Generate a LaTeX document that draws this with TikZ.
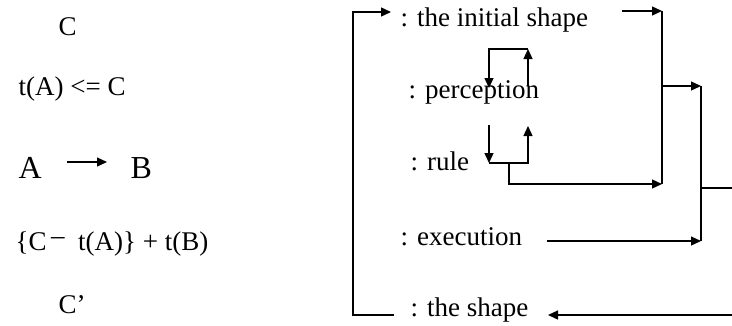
\documentclass[tikz,border=0pt]{standalone}
\usepackage{fontspec}
\setmainfont{Liberation Serif}
\usetikzlibrary{arrows.meta}

\begin{document}
\begin{tikzpicture}[x=1pt,y=-1pt,line width=1.3pt,
  lbl/.style={anchor=base west,inner sep=0pt,font=\fontsize{27}{31}\selectfont},
  biglbl/.style={lbl,font=\fontsize{32}{36}\selectfont},
  flow/.style={-{Triangle[length=10pt,width=9pt]}}]
\useasboundingbox (0,0) rectangle (732,325);

% left column: the formal steps
\node[lbl] (c0)   at (58,35)  {C};
\node[lbl] (ta)   at (18,95)  {t(A) <= C};
\node[biglbl] (ra) at (18,178) {A};
\node[biglbl] (rb) at (130,178) {B};
\node[lbl] (ex)   at (15,250) {\{C\,\raisebox{6pt}{–}\ \ t(A)\} + t(B)};
\node[lbl] (cp)   at (58,313) {C’};
\coordinate (rs) at (67,162);
\coordinate (re) at (107,162);
\draw[flow] (rs) -- (re);

% right column: the stages
\node[lbl] (init)  at (400,26)  {: the initial shape};
\node[lbl] (perc)  at (408,98)  {: perception};
\node[lbl] (rule)  at (410,170) {: rule};
\node[lbl] (exec)  at (400,245) {: execution};
\node[lbl] (shape) at (410,316) {: the shape};

% junction points
\coordinate (bl0) at (394,315);
\coordinate (bl1) at (353,315);
\coordinate (bl2) at (353,12);
\coordinate (bl3) at (391,12);
\coordinate (i0) at (622,11);
\coordinate (v1t) at (662,11);
\coordinate (v1b) at (662,184);
\coordinate (v1m) at (662,86);
\coordinate (v2t) at (701,86);
\coordinate (v2b) at (701,241);
\coordinate (v2o) at (701,188);
\coordinate (out) at (732,188);
\coordinate (pu0) at (528,86);
\coordinate (pu1) at (528,49);
\coordinate (pd0) at (489,49);
\coordinate (pd1) at (489,88);
\coordinate (rd0) at (489,125);
\coordinate (rd1) at (489,163);
\coordinate (ru0) at (528,163);
\coordinate (ru1) at (528,126);
\coordinate (rb0) at (509,163);
\coordinate (rb1) at (509,184);
\coordinate (x0) at (547,241);
\coordinate (s0) at (732,315);
\coordinate (s1) at (548,315);

% return bracket to the initial shape
\draw[flow] (bl0) -- (bl1) -- (bl2) -- (bl3);
% initial shape into the first merge
\draw[flow] (i0) -- (v1t);
\draw (v1t) -- (v1b);
% perception loop
\draw[flow] (pu0) -- (pu1);
\draw[flow] (pu1) -- (pd0) -- (pd1);
% rule loop
\draw[flow] (rd0) -- (rd1);
\draw[flow] (rd1) -- (ru0) -- (ru1);
\draw[flow] (rb0) -- (rb1) -- (v1b);
% second merge with execution
\draw[flow] (v1m) -- (v2t);
\draw (v2t) -- (v2b);
\draw[flow] (x0) -- (v2b);
\draw (v2o) -- (out);
% resulting shape
\draw[flow] (s0) -- (s1);
\end{tikzpicture}
\end{document}
